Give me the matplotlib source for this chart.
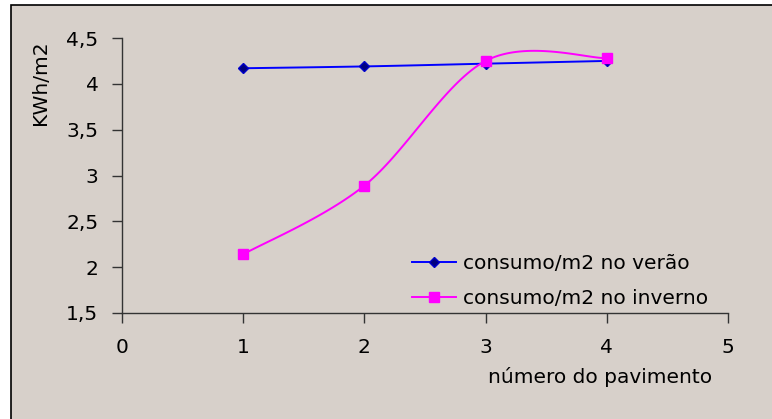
import numpy as np
import matplotlib
matplotlib.use("Agg")
import matplotlib.pyplot as plt
from matplotlib.lines import Line2D
from matplotlib.patches import Rectangle

pavimento = [1, 2, 3, 4]
verao = [4.17, 4.19, 4.22, 4.25]
inverno = [2.14, 2.89, 4.25, 4.28]
label_verao = "consumo/m2 no verão"
label_inverno = "consumo/m2 no inverno"
x_ticks = [0, 1, 2, 3, 4, 5]
y_ticks = [1.5, 2, 2.5, 3, 3.5, 4, 4.5]
y_ticklabels = ["1,5", "2", "2,5", "3", "3,5", "4", "4,5"]

BG = "#d7d0ca"
FS = 14.5
plt.rcParams['font.family'] = ['DejaVu Sans']


def smooth(xs, ys, n=40):
    xs = np.asarray(xs, float)
    ys = np.asarray(ys, float)
    px = np.concatenate([[xs[0]], xs, [xs[-1]]])
    py = np.concatenate([[ys[0]], ys, [ys[-1]]])
    ox, oy = [], []
    for i in range(1, len(px) - 2):
        p0 = np.array([px[i], py[i]])
        p3 = np.array([px[i + 1], py[i + 1]])
        c1 = p0 + (np.array([px[i + 1], py[i + 1]]) - np.array([px[i - 1], py[i - 1]])) / 6
        c2 = p3 - (np.array([px[i + 2], py[i + 2]]) - np.array([px[i], py[i]])) / 6
        t = np.linspace(0, 1, n)[:, None]
        b = (1 - t) ** 3 * p0 + 3 * (1 - t) ** 2 * t * c1 + 3 * (1 - t) * t ** 2 * c2 + t ** 3 * p3
        ox.extend(b[:, 0]); oy.extend(b[:, 1])
    return ox, oy


fig = plt.figure(figsize=(7.72, 4.19), dpi=100)
fig.patch.set_facecolor("white")
fig.patches.append(Rectangle((11 / 772, -0.05), 1.2, 1 - 5 / 419 + 0.05,
                             transform=fig.transFigure, facecolor=BG,
                             edgecolor="black", linewidth=1.2, zorder=-10))

ax = fig.add_axes([122 / 772, 1 - 313 / 419, (728 - 122) / 772, (313 - 38) / 419])
ax.set_zorder(2)
ax.set_facecolor("none")

sx, sy = smooth(pavimento, verao)
ax.plot(sx, sy, color="#0000ff", linewidth=1.4, zorder=3)
ax.plot(pavimento, verao, linestyle="none", marker="D", markersize=5.5,
        markerfacecolor="#000080", markeredgecolor="#0000cc", zorder=4)

sx, sy = smooth(pavimento, inverno)
ax.plot(sx, sy, color="#ff00ff", linewidth=1.4, zorder=3)
ax.plot(pavimento, inverno, linestyle="none", marker="s", markersize=7,
        markerfacecolor="#ff00ff", markeredgecolor="#ff00ff", zorder=4)

ax.set_xlim(0, 5)
ax.set_ylim(1.5, 4.5)
ax.set_xticks(x_ticks)
ax.set_yticks(y_ticks)
ax.set_yticklabels(y_ticklabels)
for s in ["top", "right"]:
    ax.spines[s].set_visible(False)
for s in ["left", "bottom"]:
    ax.spines[s].set_color("#333333")
    ax.spines[s].set_linewidth(1.0)
ax.tick_params(axis="both", direction="out", length=7, width=1.0, color="#333333",
               labelsize=FS, labelcolor="black")
ax.tick_params(axis="x", pad=11)
ax.tick_params(axis="y", pad=10)

fig.text(600 / 772, 1 - 377 / 419, "número do pavimento", fontsize=FS,
         ha="center", va="center", zorder=5)
fig.text(41 / 772, 1 - 83 / 419, "KWh/m2", fontsize=FS, rotation=90,
         ha="center", va="center", zorder=5)

handles = [
    Line2D([], [], color="#0000ff", linewidth=1.4, marker="D", markersize=5.5,
           markerfacecolor="#000080", markeredgecolor="#0000cc"),
    Line2D([], [], color="#ff00ff", linewidth=1.4, marker="s", markersize=7,
           markerfacecolor="#ff00ff", markeredgecolor="#ff00ff"),
]
leg = fig.legend(handles, [label_verao, label_inverno], loc="center left",
                 bbox_to_anchor=(402 / 772, 1 - 281 / 419), frameon=False,
                 fontsize=FS, handlelength=2.2, handletextpad=0.35,
                 labelspacing=0.8, borderpad=0)
leg.set_zorder(6)

fig.savefig("out.png", dpi=100, facecolor="white")
